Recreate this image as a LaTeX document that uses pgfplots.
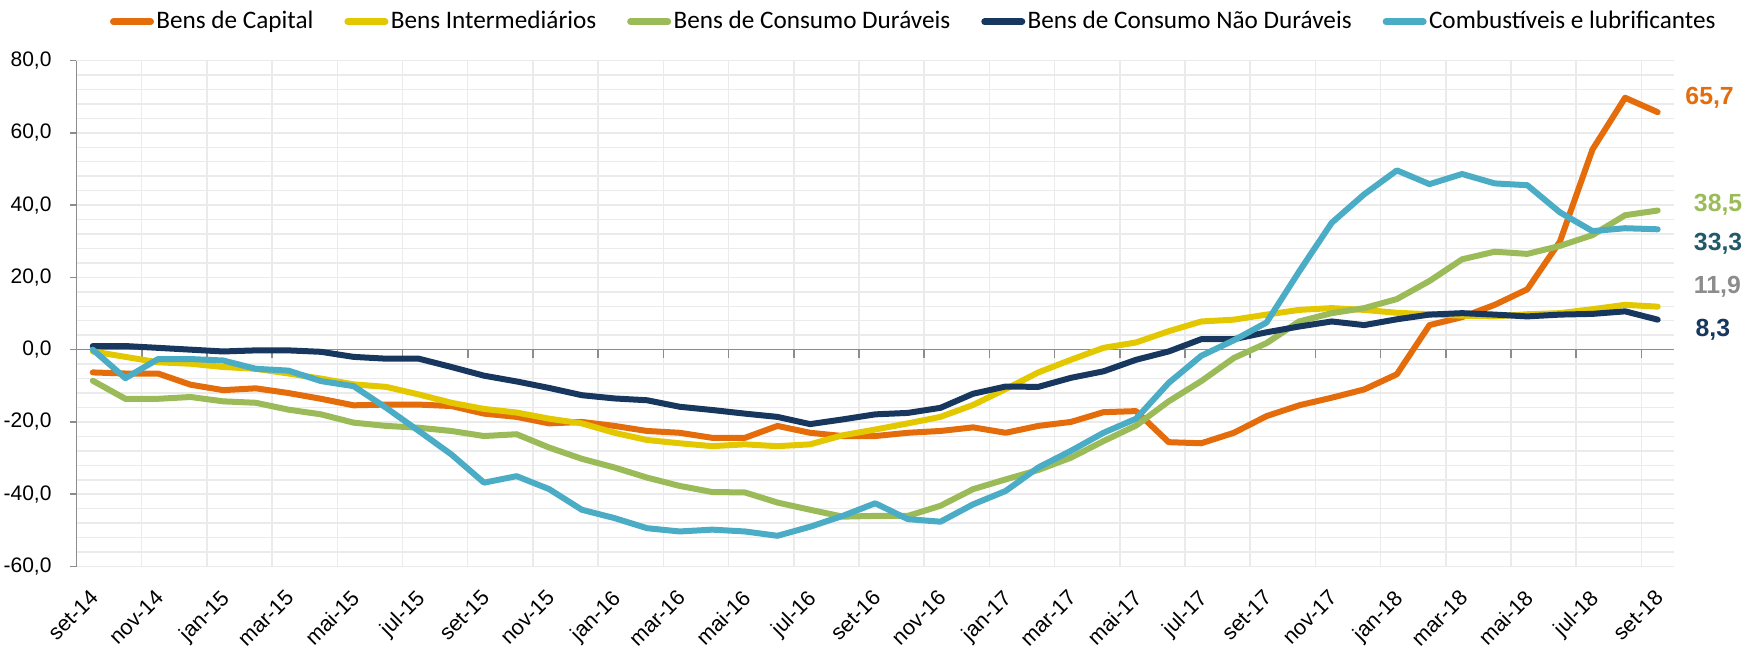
\documentclass[border=0pt]{standalone}
\usepackage{pgfplots}
\pgfplotsset{compat=1.18}
\usepackage{pgfplotstable}
\usepackage{fontspec}
\setmainfont{Liberation Sans}
\newfontfamily\legendfont{Carlito}
\definecolor{cCap}{HTML}{E46C0A}
\definecolor{cInt}{HTML}{E3C800}
\definecolor{cDur}{HTML}{9BBB59}
\definecolor{cNDur}{HTML}{17375E}
\definecolor{cComb}{HTML}{4BACC6}
\definecolor{gridc}{HTML}{EBEBEB}
\definecolor{axisc}{HTML}{8C8C8C}
\definecolor{lblA}{HTML}{215968}
\definecolor{lblB}{HTML}{8C8C8C}

\pgfplotstableread{
i cap int dur ndur comb
0 -6.3 -0.5 -8.6 1.0 0.0
1 -6.6 -2.0 -13.6 1.0 -7.9
2 -6.6 -3.5 -13.6 0.5 -2.6
3 -9.7 -3.9 -13.1 0.0 -2.6
4 -11.2 -4.8 -14.3 -0.5 -3.0
5 -10.7 -5.3 -14.7 -0.2 -5.3
6 -12.0 -6.6 -16.6 -0.2 -5.8
7 -13.6 -8.0 -17.9 -0.6 -8.7
8 -15.4 -9.6 -20.2 -2.0 -10.1
9 -15.2 -10.3 -21.1 -2.5 -16.1
10 -15.2 -12.4 -21.6 -2.5 -22.5
11 -15.6 -14.7 -22.5 -4.8 -29.0
12 -17.7 -16.4 -23.9 -7.2 -36.8
13 -18.6 -17.4 -23.4 -8.8 -35.0
14 -20.4 -19.1 -27.1 -10.6 -38.6
15 -20.0 -20.4 -30.2 -12.6 -44.3
16 -21.1 -23.0 -32.6 -13.5 -46.6
17 -22.5 -25.0 -35.4 -14.0 -49.4
18 -23.0 -25.9 -37.7 -15.8 -50.3
19 -24.4 -26.7 -39.4 -16.7 -49.8
20 -24.4 -26.2 -39.5 -17.7 -50.3
21 -21.1 -26.7 -42.3 -18.6 -51.5
22 -23.0 -26.2 -44.3 -20.6 -49.0
23 -23.9 -23.7 -46.2 -19.3 -46.0
24 -23.9 -22.1 -46.0 -17.9 -42.5
25 -23.0 -20.4 -46.0 -17.5 -46.9
26 -22.5 -18.6 -43.2 -16.1 -47.6
27 -21.5 -15.3 -38.6 -12.2 -42.8
28 -23.0 -10.9 -35.9 -10.2 -39.1
29 -21.1 -6.3 -33.3 -10.3 -32.6
30 -20.0 -2.8 -29.9 -7.8 -28.0
31 -17.3 0.5 -25.3 -6.0 -23.0
32 -17.0 2.0 -21.0 -2.8 -19.1
33 -25.6 5.1 -14.3 -0.5 -9.2
34 -25.9 7.8 -8.7 2.9 -1.7
35 -23.0 8.3 -2.3 2.9 2.6
36 -18.4 9.7 1.8 4.8 7.5
37 -15.4 11.0 7.8 6.4 21.6
38 -13.3 11.5 10.1 7.8 35.1
39 -11.0 11.0 11.5 6.8 43.0
40 -6.8 10.2 14.0 8.4 49.6
41 6.8 9.8 19.0 9.7 45.8
42 9.0 9.4 25.0 10.1 48.6
43 12.4 9.2 27.1 9.7 46.0
44 16.7 9.8 26.5 9.2 45.5
45 29.9 10.1 28.7 9.7 38.0
46 55.4 11.2 31.7 9.9 32.8
47 69.7 12.4 37.2 10.6 33.6
48 65.7 11.9 38.5 8.3 33.3
}\data

\begin{document}
\begin{tikzpicture}
\begin{axis}[
  at={(0,0)}, anchor=south west,
  scale only axis, width=798.75pt, height=253pt,
  xmin=-0.5, xmax=48.5, ymin=-60, ymax=80,
  clip=false,
  axis x line*=bottom, axis y line*=left,
  x axis line style={draw=none},
  y axis line style={draw=axisc, line width=0.8pt},
  xtick={0,2,...,48},
  xticklabels={set-14,nov-14,jan-15,mar-15,mai-15,jul-15,set-15,nov-15,jan-16,mar-16,mai-16,jul-16,set-16,nov-16,jan-17,mar-17,mai-17,jul-17,set-17,nov-17,jan-18,mar-18,mai-18,jul-18,set-18},
  xtick style={draw=none},
  xticklabel style={yshift=-7.5pt, xshift=-2pt, rotate=45, anchor=north east, inner sep=0pt, font=\fontsize{10.8}{12}\selectfont},
  extra x ticks={1.5,3.5,...,47.5},
  extra x tick labels={},
  extra x tick style={grid=major, tick style={draw=none}},
  ytick={-60,-40,...,80},
  minor y tick num=4,
  ymajorgrids, yminorgrids,
  major grid style={draw=gridc, line width=0.75pt},
  minor grid style={draw=gridc, line width=0.75pt},
  ytick style={draw=axisc, line width=0.8pt},
  tick align=outside, major tick length=3.3pt, minor tick length=0pt,
  yticklabel={\pgfmathprintnumber[fixed,fixed zerofill,precision=1,use comma,assume math mode=true]{\tick}},
  yticklabel style={font=\fontsize{10.5}{12}\selectfont, anchor=east, inner sep=0pt, xshift=-9pt},
  legend style={at={(0.02097,1.0767)}, anchor=west, draw=none, fill=none, inner sep=0pt, outer sep=0pt,
    font=\legendfont\fontsize{12.6}{14}\selectfont, nodes={inner sep=0pt},
    /tikz/every odd column/.append style={column sep=1.2pt},
    /tikz/every even column/.append style={column sep=15.5pt}},
  legend columns=5,
  legend image code/.code={\draw[#1, line width=3.3pt, line cap=round] (1.65pt,0pt) -- (20.35pt,0pt);},
  every axis plot/.append style={line width=3pt, line join=round, line cap=round, mark=none},
]
\draw[axisc, line width=0.8pt] (axis cs:-0.5,0) -- (axis cs:48.5,0);
\pgfplotsinvokeforeach{1.5,3.5,...,47.5}{\draw[axisc, line width=0.8pt] (axis cs:#1,0) -- ([yshift=-4pt]axis cs:#1,0);}
\addplot[cCap] table[x=i, y=cap] {\data};
\addlegendentry{Bens de Capital}
\addplot[cInt] table[x=i, y=int] {\data};
\addlegendentry{Bens Intermediários}
\addplot[cDur] table[x=i, y=dur] {\data};
\addlegendentry{Bens de Consumo Duráveis}
\addplot[cNDur] table[x=i, y=ndur] {\data};
\addlegendentry{Bens de Consumo Não Duráveis}
\addplot[cComb] table[x=i, y=comb] {\data};
\addlegendentry{Combustíveis e lubrificantes}
\node[anchor=west, inner sep=0pt, text=cCap, font=\bfseries\fontsize{12.4}{14}\selectfont] at (axis cs:48.84,69.6) {65,7};
\node[anchor=west, inner sep=0pt, text=cDur, font=\bfseries\fontsize{12.4}{14}\selectfont] at (axis cs:49.1,40.0) {38,5};
\node[anchor=west, inner sep=0pt, text=lblA, font=\bfseries\fontsize{12.4}{14}\selectfont] at (axis cs:49.1,29.2) {33,3};
\node[anchor=west, inner sep=0pt, text=lblB, font=\bfseries\fontsize{12.4}{14}\selectfont] at (axis cs:49.1,17.3) {11,9};
\node[anchor=west, inner sep=0pt, text=cNDur, font=\bfseries\fontsize{12.4}{14}\selectfont] at (axis cs:49.15,5.4) {8,3};
\end{axis}
\pgfresetboundingbox
\path (-38.25pt,-47.25pt) rectangle (834.25pt,283.25pt);
\end{tikzpicture}
\end{document}
